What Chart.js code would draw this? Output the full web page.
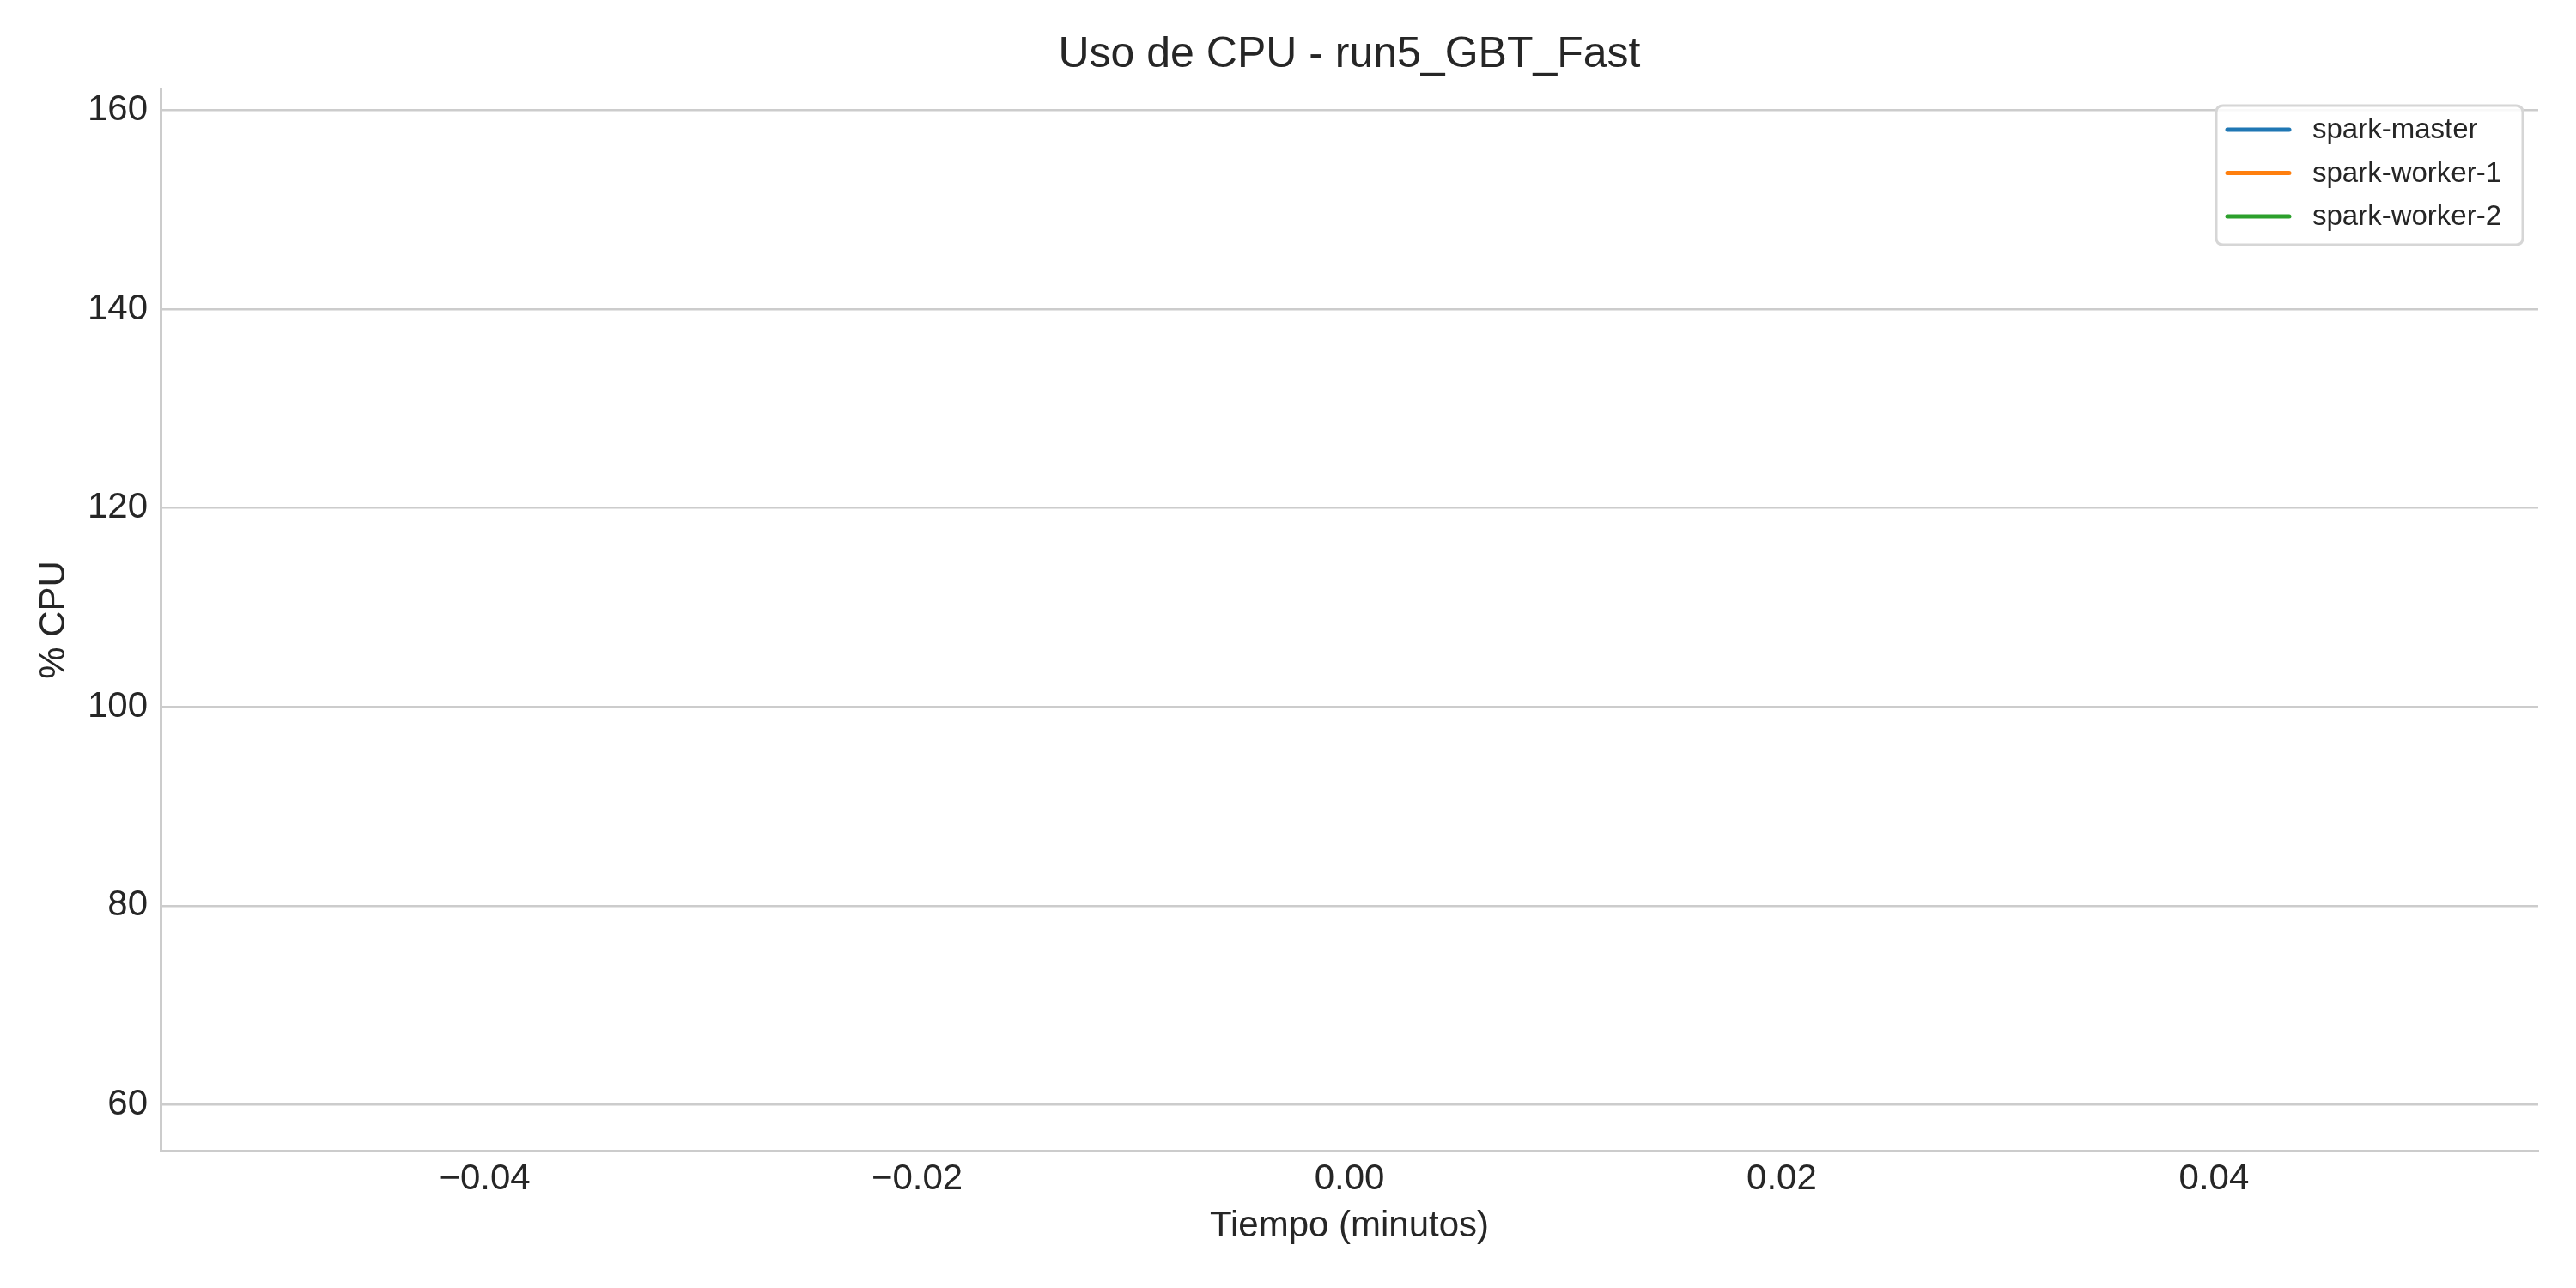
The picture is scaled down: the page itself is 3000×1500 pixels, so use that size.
<!DOCTYPE html>
<html>
<head>
<meta charset="utf-8">
<script src="https://cdn.jsdelivr.net/npm/chart.js@4.4.1/dist/chart.umd.min.js"></script>
<style>
  html, body { margin: 0; padding: 0; background: #ffffff; }
  #wrap { width: 3000px; height: 1500px; position: relative; }
</style>
</head>
<body>
<div id="wrap"><canvas id="c" width="3000" height="1500"></canvas></div>
<script>
// ---- data ----
const timeMinutes = [0];
const seriesNames = ["spark-master", "spark-worker-1", "spark-worker-2"];
const sparkMaster = [60.2];
const sparkWorker1 = [157.3];
const sparkWorker2 = [110.0];
const seriesColors = ["#1f77b4", "#ff7f0e", "#2ca02c"];
const xTickValues = [-0.04, -0.02, 0.00, 0.02, 0.04];
const yTickValues = [60, 80, 100, 120, 140, 160];
const chartTitle = "Uso de CPU - run5_GBT_Fast";
const xAxisTitle = "Tiempo (minutos)";
const yAxisTitle = "% CPU";

const FONT = "'Liberation Sans', Arial, sans-serif";
const TEXT = "#262626";
const GRID = "#cccccc";

const seriesValues = [sparkMaster, sparkWorker1, sparkWorker2];
const datasets = seriesNames.map((name, i) => ({
  label: name,
  data: timeMinutes.map((t, j) => ({ x: t, y: seriesValues[i][j] })),
  borderColor: seriesColors[i],
  backgroundColor: seriesColors[i],
  borderWidth: 5,
  pointRadius: 0,
  pointHoverRadius: 0,
  fill: false
}));

function fmtX(v) {
  const s = Math.abs(v).toFixed(2);
  return (v < -1e-9 ? "\u2212" : "") + s;
}

const textPlugin = {
  id: "textPlugin",
  afterDraw(chart) {
    const ctx = chart.ctx;
    const area = chart.chartArea;
    ctx.save();
    ctx.fillStyle = TEXT;
    // title
    ctx.font = "50px " + FONT;
    ctx.textAlign = "center";
    ctx.textBaseline = "middle";
    ctx.fillText(chartTitle, (area.left + area.right) / 2, 64);
    // x axis title
    ctx.font = "42px " + FONT;
    ctx.fillText(xAxisTitle, (area.left + area.right) / 2, 1428);
    // y axis title
    ctx.save();
    ctx.translate(63, (area.top + area.bottom) / 2);
    ctx.rotate(-Math.PI / 2);
    ctx.fillText(yAxisTitle, 0, 0);
    ctx.restore();

    // legend
    const bx = 2581, by = 123, bw = 357, bh = 162, r = 8;
    ctx.beginPath();
    ctx.moveTo(bx + r, by);
    ctx.lineTo(bx + bw - r, by);
    ctx.quadraticCurveTo(bx + bw, by, bx + bw, by + r);
    ctx.lineTo(bx + bw, by + bh - r);
    ctx.quadraticCurveTo(bx + bw, by + bh, bx + bw - r, by + bh);
    ctx.lineTo(bx + r, by + bh);
    ctx.quadraticCurveTo(bx, by + bh, bx, by + bh - r);
    ctx.lineTo(bx, by + r);
    ctx.quadraticCurveTo(bx, by, bx + r, by);
    ctx.closePath();
    ctx.fillStyle = "rgba(255,255,255,0.85)";
    ctx.fill();
    ctx.lineWidth = 3;
    ctx.strokeStyle = "#d6d6d6";
    ctx.stroke();

    ctx.font = "33px " + FONT;
    ctx.textAlign = "left";
    ctx.textBaseline = "middle";
    chart.data.datasets.forEach((ds, i) => {
      const y = 151 + i * 50.5;
      ctx.beginPath();
      ctx.moveTo(2594, y);
      ctx.lineTo(2666, y);
      ctx.lineCap = "round";
      ctx.lineWidth = 5;
      ctx.strokeStyle = ds.borderColor;
      ctx.stroke();
      ctx.fillStyle = TEXT;
      ctx.fillText(ds.label, 2693, y + 1);
    });
    ctx.restore();
  }
};

new Chart(document.getElementById("c"), {
  type: "line",
  data: { datasets },
  options: {
    responsive: false,
    animation: false,
    events: [],
    layout: { padding: { top: 104, right: 44, left: 0, bottom: 0 } },
    plugins: {
      legend: { display: false },
      title: { display: false },
      tooltip: { enabled: false }
    },
    scales: {
      x: {
        type: "linear",
        min: -0.055,
        max: 0.055,
        afterBuildTicks(scale) { scale.ticks = xTickValues.map(v => ({ value: v })); },
        afterFit(scale) { scale.height = 160; },
        grid: { display: false, drawTicks: false },
        border: { display: true, color: GRID, width: 3 },
        ticks: {
          color: TEXT,
          font: { family: FONT, size: 42 },
          padding: 8,
          maxRotation: 0,
          autoSkip: false,
          callback: (v) => fmtX(v)
        }
      },
      y: {
        type: "linear",
        min: 55.38,
        max: 162.1,
        afterBuildTicks(scale) { scale.ticks = yTickValues.map(v => ({ value: v })); },
        afterFit(scale) { scale.width = 187; },
        grid: { display: true, color: GRID, lineWidth: 2.5, drawTicks: false },
        border: { display: true, color: GRID, width: 3 },
        ticks: {
          color: TEXT,
          font: { family: FONT, size: 42 },
          padding: 15,
          autoSkip: false,
          callback: (v) => String(v)
        }
      }
    }
  },
  plugins: [textPlugin]
});
</script>
</body>
</html>
